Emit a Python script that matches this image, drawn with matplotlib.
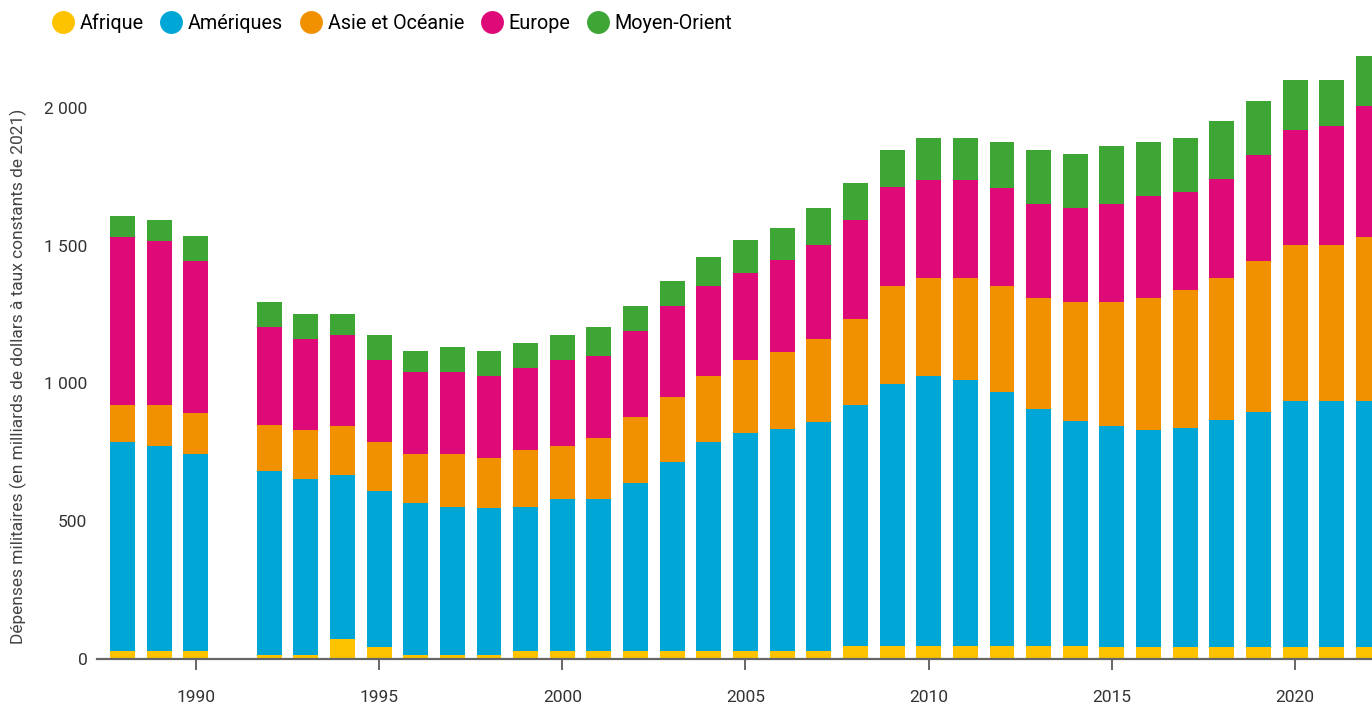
import matplotlib
matplotlib.use("Agg")
import matplotlib.pyplot as plt
import numpy as np
from matplotlib.lines import Line2D
from matplotlib.ticker import FuncFormatter

plt.rcParams["font.family"] = ["Roboto", "DejaVu Sans"]

# military spending by region, billions of constant 2021 dollars
years = [1988, 1989, 1990, 1992, 1993, 1994, 1995, 1996, 1997, 1998, 1999,
         2000, 2001, 2002, 2003, 2004, 2005, 2006, 2007, 2008, 2009, 2010,
         2011, 2012, 2013, 2014, 2015, 2016, 2017, 2018, 2019, 2020, 2021, 2022]
afrique = [27, 27, 27, 13, 13, 71, 42, 13, 13, 13, 27,
           27, 27, 27, 27, 27, 27, 28, 28, 44, 44, 44,
           44, 44, 44, 44, 41, 41, 41, 41, 41, 41, 41, 41]
ameriques = [760, 746, 716, 668, 639, 596, 566, 552, 537, 534, 523,
             552, 552, 611, 687, 760, 792, 807, 832, 877, 954, 984,
             969, 924, 864, 819, 803, 789, 795, 824, 853, 895, 895, 895]
asie_oceanie = [134, 148, 149, 167, 178, 178, 179, 178, 193, 181, 207,
                193, 222, 239, 236, 239, 265, 278, 301, 312, 355, 354,
                369, 385, 402, 433, 451, 480, 503, 518, 550, 567, 567, 596]
europe = [610, 596, 552, 356, 331, 330, 297, 298, 298, 298, 298,
          312, 298, 313, 331, 327, 317, 333, 342, 360, 361, 357,
          357, 358, 342, 341, 357, 371, 356, 359, 386, 417, 432, 476]
moyen_orient = [77, 76, 91, 91, 91, 77, 91, 76, 91, 91, 91,
                91, 105, 91, 91, 106, 120, 118, 134, 134, 133, 152,
                152, 165, 195, 196, 209, 195, 196, 210, 195, 181, 166, 180]

regions = ["Afrique", "Amériques", "Asie et Océanie", "Europe", "Moyen-Orient"]
series = [afrique, ameriques, asie_oceanie, europe, moyen_orient]
colors = ["#FDC300", "#00A7D6", "#F29100", "#DD0A78", "#3EA635"]

fig = plt.figure(figsize=(13.72, 7.09), dpi=100)
ax = fig.add_axes([0.0707, 0.0712, 0.9293, 0.8542])

bottom = np.zeros(len(years))
for name, vals, col in zip(regions, series, colors):
    vals = np.array(vals, dtype=float)
    ax.bar(years, vals, width=0.68, bottom=bottom, color=col, label=name,
           linewidth=0, zorder=2)
    bottom += vals

ax.set_xlim(1987.3, 2022.1)
ax.set_ylim(0, 2200)

for side in ["top", "right", "left"]:
    ax.spines[side].set_visible(False)
ax.spines["bottom"].set_color("#666666")
ax.spines["bottom"].set_linewidth(1.6)
ax.spines["bottom"].set_zorder(3)

ax.set_xticks(range(1990, 2021, 5))
ax.tick_params(axis="x", length=8, width=1.4, color="#666666", pad=15,
               labelsize=12.5, labelcolor="#333333")
ax.set_yticks(range(0, 2001, 500))
ax.yaxis.set_major_formatter(FuncFormatter(lambda v, _: f"{v:,.0f}".replace(",", " ")))
ax.tick_params(axis="y", length=0, pad=7, labelsize=12.5, labelcolor="#333333")

ax.set_ylabel("Dépenses militaires (en milliards de dollars à taux constants de 2021)",
              fontsize=12.5, color="#444444")
ax.yaxis.set_label_coords(-0.055, 0.466)

handles = [Line2D([], [], marker="o", ls="", markersize=16.5, markerfacecolor=c,
                  markeredgewidth=0) for c in colors]
fig.legend(handles, regions, loc="upper left", bbox_to_anchor=(51 / 1372, 0.981),
           ncol=5, frameon=False, fontsize=14.2, handletextpad=0.25,
           columnspacing=0.8, handlelength=1.2, borderaxespad=0, borderpad=0)

fig.savefig("out.png", dpi=100)
